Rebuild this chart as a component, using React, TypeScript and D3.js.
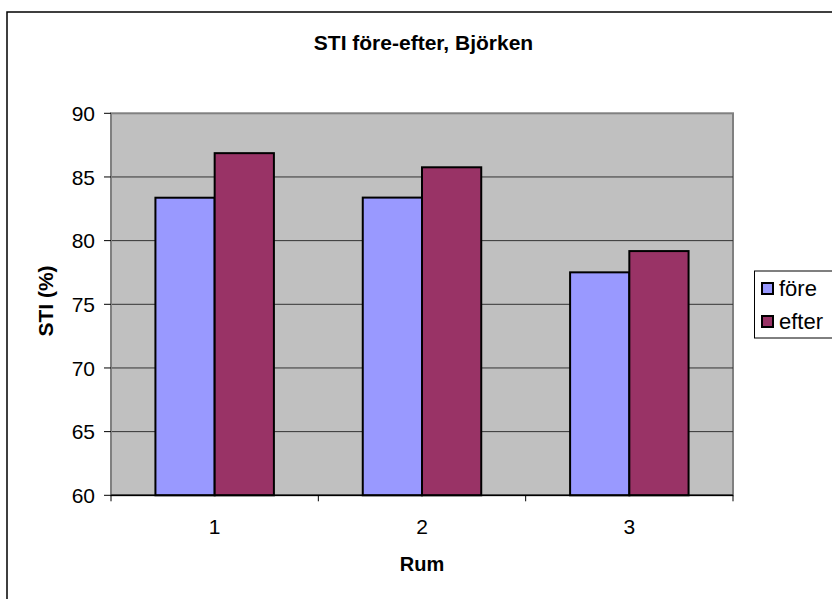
import React from "react";
import * as d3 from "d3";

const rooms = ["1", "2", "3"];
const seriesNames = ["före", "efter"];
const foreValues = [83.37, 83.38, 77.51];
const efterValues = [86.87, 85.76, 79.18];
const yTicks = [60, 65, 70, 75, 80, 85, 90];
const seriesColors = ["#9999FF", "#993366"];

const W = 832;
const H = 599;
const plot = { left: 111, right: 733, top: 113.3, bottom: 495.3 };
const FONT = "Arial, 'Liberation Sans', sans-serif";

export default function App() {
  const y = d3.scaleLinear().domain([60, 90]).range([plot.bottom, plot.top]);
  const x0 = d3.scaleBand<string>().domain(rooms).range([plot.left, plot.right]).paddingInner(0).paddingOuter(0);
  const bw = x0.bandwidth();
  const gap = (bw * 1.5) / 3.5;
  const x1 = d3.scaleBand<string>().domain(seriesNames).range([gap / 2, bw - gap / 2]).padding(0);
  const values = [foreValues, efterValues];
  const xTickPositions = [...rooms.map((r) => x0(r) as number), plot.right];

  return (
    <svg width={W} height={H} style={{ position: "absolute", left: 0, top: 0, background: "#fff" }} fontFamily={FONT}>
      {/* chart frame */}
      <rect x={7} y={12} width={W + 10} height={H + 10} fill="#fff" stroke="#000" strokeWidth={1.5} />

      <text x={423.5} y={50} textAnchor="middle" fontSize={21} fontWeight="bold">
        STI före-efter, Björken
      </text>

      {/* plot area */}
      <rect x={plot.left} y={plot.top} width={plot.right - plot.left} height={plot.bottom - plot.top} fill="#C0C0C0" stroke="#808080" strokeWidth={2} />

      {/* gridlines */}
      {yTicks.slice(1, -1).map((t) => (
        <line key={t} x1={plot.left} x2={plot.right} y1={y(t)} y2={y(t)} stroke="#333" strokeWidth={1} />
      ))}

      {/* bars */}
      {rooms.map((r, i) =>
        seriesNames.map((s, j) => {
          const bx = (x0(r) as number) + (x1(s) as number);
          const by = y(values[j][i]);
          return (
            <rect key={r + s} x={bx} y={by} width={x1.bandwidth()} height={plot.bottom - by} fill={seriesColors[j]} stroke="#000" strokeWidth={2} />
          );
        })
      )}

      {/* y axis */}
      <line x1={plot.left} x2={plot.left} y1={plot.top} y2={plot.bottom} stroke="#808080" strokeWidth={2} />
      {yTicks.map((t) => (
        <g key={t}>
          <line x1={plot.left - 7} x2={plot.left} y1={y(t)} y2={y(t)} stroke="#000" strokeWidth={1} />
          <text x={95} y={y(t)} dy="0.36em" textAnchor="end" fontSize={21}>
            {t}
          </text>
        </g>
      ))}

      {/* x axis */}
      <line x1={plot.left} x2={plot.right} y1={plot.bottom} y2={plot.bottom} stroke="#000" strokeWidth={1.5} />
      {xTickPositions.map((p, i) => (
        <line key={i} x1={p} x2={p} y1={plot.bottom} y2={plot.bottom + 6} stroke="#000" strokeWidth={1} />
      ))}
      {rooms.map((r) => (
        <text key={r} x={(x0(r) as number) + bw / 2} y={534} textAnchor="middle" fontSize={21}>
          {r}
        </text>
      ))}

      <text x={422} y={571} textAnchor="middle" fontSize={20} fontWeight="bold">
        Rum
      </text>
      <text transform="translate(53,301) rotate(-90)" textAnchor="middle" fontSize={21} fontWeight="bold">
        STI (%)
      </text>

      {/* legend */}
      <rect x={754.5} y={271} width={90} height={67} fill="#fff" stroke="#000" strokeWidth={1} />
      {seriesNames.map((s, j) => (
        <g key={s}>
          <rect x={762} y={283 + j * 33} width={11} height={11} fill={seriesColors[j]} stroke="#000" strokeWidth={2} />
          <text x={779} y={295.5 + j * 33} fontSize={22}>
            {s}
          </text>
        </g>
      ))}
    </svg>
  );
}
